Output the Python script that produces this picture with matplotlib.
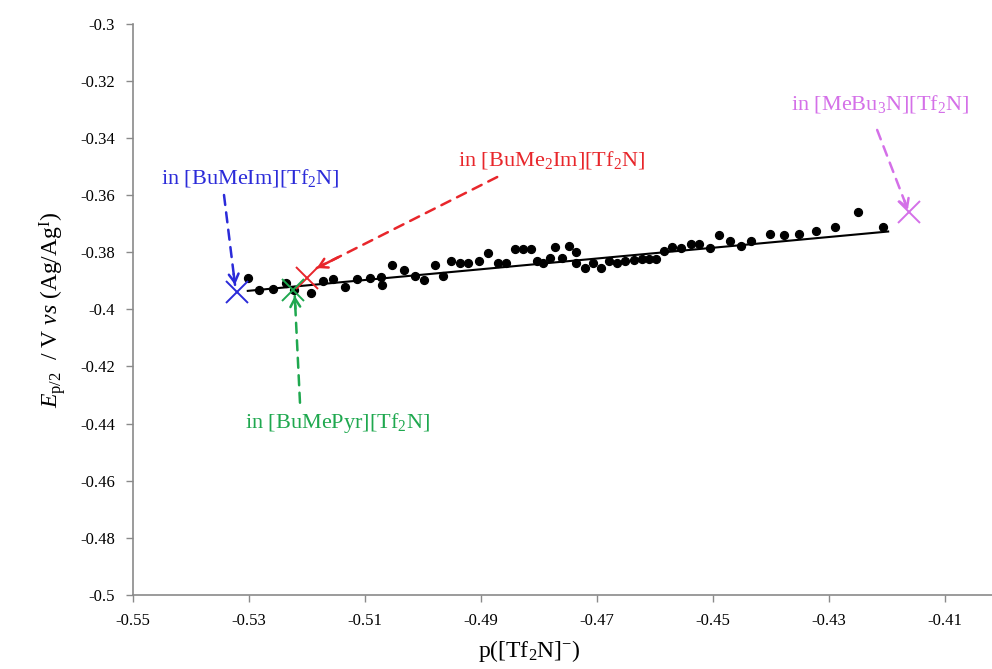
import numpy as np
import matplotlib
matplotlib.use("Agg")
import matplotlib.pyplot as plt
from matplotlib.ticker import FuncFormatter

plt.rcParams['font.family'] = ['Liberation Serif', 'DejaVu Serif']
plt.rcParams['mathtext.fontset'] = 'custom'
plt.rcParams['mathtext.rm'] = 'Liberation Serif'
plt.rcParams['mathtext.it'] = 'Liberation Serif:italic'

# measured points: p([Tf2N]-) vs Ep/2
p_tf2n = [-0.5302, -0.5282, -0.5258, -0.5236, -0.5222, -0.5193, -0.5173, -0.5155,
          -0.5135, -0.5113, -0.5091, -0.5072, -0.5071, -0.5054, -0.5032, -0.5014,
          -0.4998, -0.4980, -0.4966, -0.4952, -0.4937, -0.4922, -0.4904, -0.4888,
          -0.4871, -0.4856, -0.4841, -0.4827, -0.4813, -0.4804, -0.4793, -0.4781,
          -0.4772, -0.4760, -0.4748, -0.4736, -0.4736, -0.4721, -0.4707, -0.4693,
          -0.4679, -0.4666, -0.4652, -0.4637, -0.4623, -0.4610, -0.4598, -0.4585,
          -0.4570, -0.4555, -0.4538, -0.4524, -0.4506, -0.4490, -0.4471, -0.4452,
          -0.4434, -0.4401, -0.4378, -0.4352, -0.4323, -0.4290, -0.4250, -0.4207]
e_p2 = [-0.3891, -0.3932, -0.3929, -0.3906, -0.3932, -0.3943, -0.3900, -0.3894,
        -0.3922, -0.3893, -0.3889, -0.3885, -0.3914, -0.3844, -0.3862, -0.3882,
        -0.3897, -0.3844, -0.3882, -0.3832, -0.3838, -0.3838, -0.3832, -0.3801,
        -0.3838, -0.3838, -0.3788, -0.3788, -0.3788, -0.3832, -0.3838, -0.3821,
        -0.3780, -0.3821, -0.3778, -0.3798, -0.3838, -0.3856, -0.3838, -0.3856,
        -0.3832, -0.3838, -0.3832, -0.3827, -0.3824, -0.3824, -0.3824, -0.3794,
        -0.3782, -0.3786, -0.3771, -0.3771, -0.3786, -0.3739, -0.3760, -0.3778,
        -0.3760, -0.3736, -0.3739, -0.3736, -0.3725, -0.3710, -0.3660, -0.3710]

# linear trend line
fit_x = [-0.5302, -0.4198]
fit_y = [-0.3935, -0.3727]

# values in the single ionic liquids
il_labels = ['in [BuMeIm][Tf$_2$N]', 'in [BuMe$_2$Im][Tf$_2$N]',
             'in [BuMePyr][Tf$_2$N]', 'in [MeBu$_3$N][Tf$_2$N]']
il_x = [-0.5321, -0.5200, -0.5224, -0.4162]
il_y = [-0.3938, -0.3891, -0.3932, -0.3657]
il_colors = ['#2b2bd9', '#e8262b', '#1fa84f', '#d470e8']
text_pos = [(-0.5298, -0.3539), (-0.4778, -0.3476), (-0.5148, -0.4398), (-0.4212, -0.3280)]
arrow_tail = [(-0.5343, -0.3599), (-0.4872, -0.3536), (-0.5212, -0.4327), (-0.4217, -0.3371)]
arrow_head = [(-0.5324, -0.3914), (-0.5183, -0.3855), (-0.5221, -0.3953), (-0.4164, -0.3651)]

fig = plt.figure(figsize=(9.92, 6.69), dpi=100)
ax = fig.add_axes([0.134, 0.111, 0.866, 0.853])

ax.plot(fit_x, fit_y, color='black', lw=1.5, zorder=2)
ax.scatter(p_tf2n, e_p2, s=32, color='black', zorder=3)

for lab, x, y, c, tp, tail, head in zip(il_labels, il_x, il_y, il_colors,
                                        text_pos, arrow_tail, arrow_head):
    ax.plot(x, y, marker='x', ms=16, mew=1.4, color=c, zorder=4)
    ax.text(tp[0], tp[1], lab, color=c, fontsize=16, ha='center', va='center')
    # dashed shaft
    ax.annotate('', xy=head, xytext=tail,
                arrowprops=dict(arrowstyle='-', color=c, lw=1.8, ls=(0, (4, 3)),
                                shrinkA=0, shrinkB=0))
    # solid open head
    hx = head[0] + (tail[0] - head[0]) * 0.12
    hy = head[1] + (tail[1] - head[1]) * 0.12
    ax.annotate('', xy=head, xytext=(hx, hy),
                arrowprops=dict(arrowstyle='->,head_length=0.6,head_width=0.35',
                                color=c, lw=1.8, shrinkA=0, shrinkB=0))

ax.set_xlim(-0.55, -0.4019)
ax.set_ylim(-0.5, -0.3)
ax.set_xticks(np.arange(-0.55, -0.40, 0.02))
ax.set_yticks(np.arange(-0.5, -0.299, 0.02))
fmt = FuncFormatter(lambda v, pos: '%g' % round(v, 2))
ax.xaxis.set_major_formatter(fmt)
ax.yaxis.set_major_formatter(fmt)

for s in ['top', 'right']:
    ax.spines[s].set_visible(False)
for s in ['left', 'bottom']:
    ax.spines[s].set_color('#8a8a8a')
    ax.spines[s].set_linewidth(1.2)
ax.tick_params(direction='out', length=5, width=1, color='#8a8a8a',
               labelsize=12, pad=8)

ax.set_xlabel('p([Tf$_2$N]$^{-}$)', fontsize=17)
ax.xaxis.set_label_coords(0.461, -0.075)
ax.set_ylabel('$E_{\\mathrm{p/2}}$  / V $vs$ (Ag/Ag$^{\\mathrm{I}}$)', fontsize=17)
ax.yaxis.set_label_coords(-0.076, 0.5)

fig.savefig('out.png', dpi=100)
